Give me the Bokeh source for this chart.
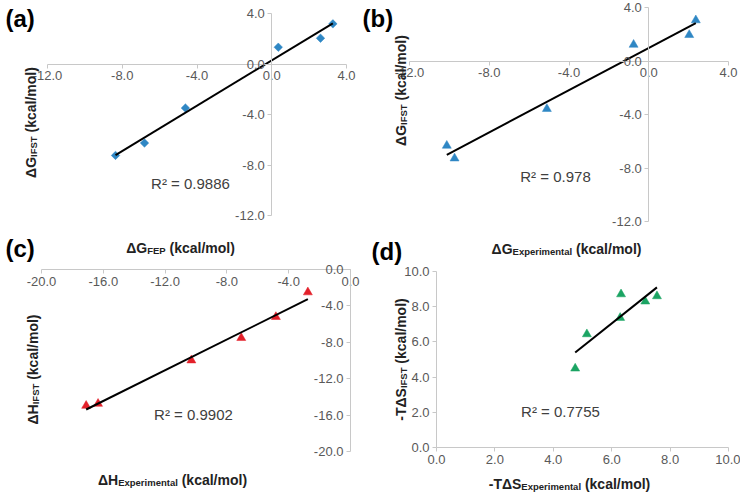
import glob
import numpy as np
from bokeh.plotting import figure
from bokeh.models import Range1d, LinearAxis, FixedTicker, PrintfTickFormatter, Label
from bokeh.embed import file_html
from bokeh.resources import INLINE

# ---------------- data ----------------
a_x = [-8.36, -6.81, -4.62, 0.35, 2.61, 3.27]      # dG FEP
a_y = [-7.24, -6.26, -3.49, 1.33, 2.04, 3.18]      # dG IFST
b_x = [-10.13, -9.74, -5.11, -0.76, 2.03, 2.36]    # dG experimental
b_y = [-6.33, -7.28, -3.58, 1.22, 1.95, 3.05]      # dG IFST
c_x = [-17.11, -16.34, -10.30, -7.07, -4.83, -2.76]  # dH experimental
c_y = [-14.97, -14.75, -9.98, -7.52, -5.21, -2.50]   # dH IFST
d_x = [4.75, 5.15, 6.32, 6.29, 7.15, 7.55]         # -TdS experimental
d_y = [4.49, 6.44, 8.71, 7.37, 8.30, 8.60]         # -TdS IFST

r2_labels = ["R\u00b2 = 0.9886", "R\u00b2 = 0.978", "R\u00b2 = 0.9902", "R\u00b2 = 0.7755"]
panel_labels = ["(a)", "(b)", "(c)", "(d)"]

ticks_ab = [-12, -8, -4, 0, 4]
ticks_c = [-20, -16, -12, -8, -4, 0]
ticks_d = [0, 2, 4, 6, 8, 10]

# ---------------- styling ----------------
FONT = "Liberation Sans"
TICK_COLOR = "#595959"
AXIS_COLOR = "#c8c8c8"
TITLE_COLOR = "#222222"
MAIN = 14
SUB = 9.5
SUBDROP = 3
CAP = 0.716 * MAIN

BLUE = "#2f87c4"
RED = "#e3202a"
GREEN = "#1ba463"

W, H = 740, 492
PX0, PY0 = 0, 0  # page offset of the canvas


def _font_path(bold):
    name = "LiberationSans-Bold.ttf" if bold else "LiberationSans-Regular.ttf"
    hits = glob.glob("/usr/share/fonts/**/" + name, recursive=True)
    return hits[0] if hits else None


try:
    from PIL import ImageFont
    _BOLD = _font_path(True)
except Exception:
    ImageFont = None
    _BOLD = None


def text_w(t, size):
    if ImageFont is not None and _BOLD:
        try:
            return ImageFont.truetype(_BOLD, size).getlength(t)
        except Exception:
            pass
    return 0.6 * size * len(t)


p = figure(width=W, height=H, x_range=Range1d(PX0, PX0 + W), y_range=Range1d(PY0 + H, PY0),
           output_backend="svg", toolbar_location=None,
           x_axis_location=None, y_axis_location=None, min_border=0,
           outline_line_color=None, background_fill_color="white")
p.grid.visible = False

# panel frames: data range -> pixel anchors in page coordinates
panels = [
    dict(n="a", x=a_x, y=a_y, xr=(-12, 4), xp=(47, 346), yr=(-12, 4), yp=(215, 13),
         xt=ticks_ab, yt=ticks_ab, color=BLUE, marker="square", size=6, angle=np.pi / 4),
    dict(n="b", x=b_x, y=b_y, xr=(-12, 4), xp=(409, 728), yr=(-12, 4), yp=(221, 7),
         xt=ticks_ab, yt=ticks_ab, color=BLUE, marker="triangle", size=9, angle=0),
    dict(n="c", x=c_x, y=c_y, xr=(-20, 0), xp=(41, 350), yr=(-20, 0), yp=(451, 269),
         xt=ticks_c, yt=ticks_c, color=RED, marker="triangle", size=9, angle=0),
    dict(n="d", x=d_x, y=d_y, xr=(0, 10), xp=(436, 728), yr=(0, 10), yp=(447, 271),
         xt=ticks_d, yt=ticks_d, color=GREEN, marker="triangle", size=9, angle=0),
]

for pn in panels:
    n = pn["n"]
    (x0, x1), (px0, px1) = pn["xr"], pn["xp"]
    kx = (px1 - px0) / (x1 - x0)
    p.extra_x_ranges[n] = Range1d(x0 - (px0 - PX0) / kx, x1 + (PX0 + W - px1) / kx)
    (y0, y1), (py0, py1) = pn["yr"], pn["yp"]
    ky = (py0 - py1) / (y1 - y0)
    p.extra_y_ranges[n] = Range1d(y0 - (PY0 + H - py0) / ky, y1 + (py1 - PY0) / ky)

    common = dict(x_range_name=n, y_range_name=n, fixed_location=0,
                  formatter=PrintfTickFormatter(format="%.1f"),
                  axis_line_color=AXIS_COLOR, axis_line_width=1,
                  major_tick_line_color=AXIS_COLOR, major_tick_out=4, major_tick_in=0,
                  minor_tick_line_color=None,
                  major_label_text_font=FONT, major_label_text_font_size="13px",
                  major_label_text_color=TICK_COLOR)
    xa = LinearAxis(bounds=pn["xr"], ticker=FixedTicker(ticks=pn["xt"]),
                    major_label_standoff=3, **common)
    p.add_layout(xa, "below")
    ya = LinearAxis(bounds=pn["yr"], ticker=FixedTicker(ticks=pn["yt"]),
                    major_label_standoff=3, **common)
    p.add_layout(ya, "left")

    p.scatter(pn["x"], pn["y"], marker=pn["marker"], size=pn["size"], angle=pn["angle"],
              fill_color=pn["color"], line_color=pn["color"], line_width=0.5,
              x_range_name=n, y_range_name=n)
    coef = np.polyfit(pn["x"], pn["y"], 1)
    xs = np.array([min(pn["x"]), max(pn["x"])])
    p.line(xs, np.polyval(coef, xs), line_color="black", line_width=2,
           x_range_name=n, y_range_name=n)

# R^2 annotations
r2_pos = [(190, 183), (555, 176), (193, 414), (560, 411)]
for t, (x, y) in zip(r2_labels, r2_pos):
    p.add_layout(Label(x=x, y=y, text=t, text_align="center", text_baseline="middle",
                       text_font=FONT, text_font_size="15px", text_color="#404040"))

# panel letters
letter_pos = [(5, 18), (362, 18), (5, 248), (371, 251)]
for t, (x, y) in zip(panel_labels, letter_pos):
    p.add_layout(Label(x=x, y=y, text=t, text_align="left", text_baseline="middle",
                       text_font=FONT, text_font_size="24px", text_font_style="bold",
                       text_color="black"))


def add_title(parts, cx, cy, rotated):
    # parts: (text, kind, leading_gap_in_px)
    sizes = [MAIN if k == "m" else SUB for _, k, _ in parts]
    widths = [text_w(t, s) + g for (t, _, g), s in zip(parts, sizes)]
    pos = -sum(widths) / 2
    for (t, k, g), s, w in zip(parts, sizes, widths):
        drop = SUBDROP if k == "s" else 0
        start = pos + g
        if rotated:
            x, y, ang = cx + CAP / 2 + drop, cy - start, np.pi / 2
        else:
            x, y, ang = cx + start, cy + CAP / 2 + drop, 0
        p.add_layout(Label(x=x, y=y, text=t, angle=ang, text_align="left",
                           text_baseline="alphabetic", text_font=FONT,
                           text_font_size=f"{s}px", text_font_style="bold",
                           text_color=TITLE_COLOR))
        pos += w


GAP = text_w(" ", MAIN)
UNIT = "(kcal/mol)"
add_title([("\u0394G", "m", 0), ("FEP", "s", 0), (UNIT, "m", GAP)], 180, 242, False)
add_title([("\u0394G", "m", 0), ("IFST", "s", 0), (UNIT, "m", GAP)], 25, 122, True)
add_title([("\u0394G", "m", 0), ("Experimental", "s", 0), (UNIT, "m", GAP)], 566, 243, False)
add_title([("\u0394G", "m", 0), ("IFST", "s", 0), (UNIT, "m", GAP)], 395, 90, True)
add_title([("\u0394H", "m", 0), ("Experimental", "s", 0), (UNIT, "m", GAP)], 172, 474, False)
add_title([("\u0394H", "m", 0), ("IFST", "s", 0), (UNIT, "m", GAP)], 27, 369, True)
add_title([("-T\u0394S", "m", 0), ("Experimental", "s", 0), (UNIT, "m", GAP)], 569, 478, False)
add_title([("-T\u0394S", "m", 0), ("IFST", "s", 0), (UNIT, "m", GAP)], 395, 359, True)

open("out.html", "w").write(file_html(p, INLINE))
